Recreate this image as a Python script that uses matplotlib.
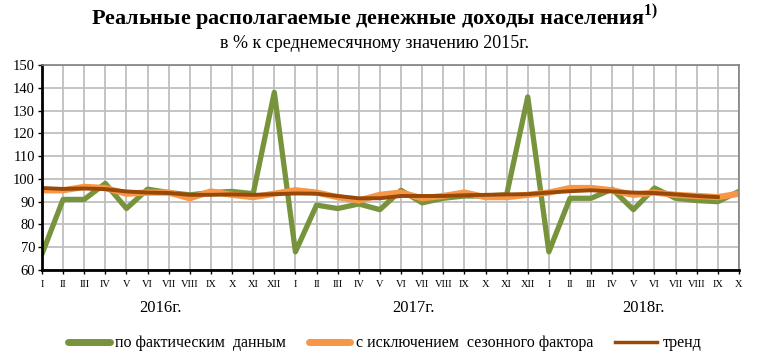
import numpy as np
import matplotlib.pyplot as plt

plt.rcParams['font.family'] = ['Liberation Serif', 'DejaVu Serif']
plt.rcParams['mathtext.fontset'] = 'custom'
plt.rcParams['mathtext.rm'] = 'Liberation Serif'
plt.rcParams['mathtext.bf'] = 'Liberation Serif:bold'

months = ["I", "II", "III", "IV", "V", "VI", "VII", "VIII", "IX", "X", "XI", "XII"]
month_labels = months + months + months[:10]
years = ["2016г.", "2017г.", "2018г."]

fact = [67, 91, 91, 98, 87, 95.5, 94, 93, 94, 94.5, 93.5, 138,
        68, 88.5, 87, 89, 86.5, 95, 89.5, 91.5, 92.5, 92.5, 93, 136,
        68, 91.5, 91.5, 95.5, 86.5, 96, 91.5, 90.5, 90, 94.5]
seasonal = [95, 95, 96.5, 96, 93.5, 94, 94, 91.5, 94.5, 93, 92, 93.5,
            95, 94, 92, 90.5, 93, 94, 91.5, 92.5, 94, 92, 92, 93,
            94, 96, 96, 95, 93, 94, 93, 92.5, 92, 93.5]
trend = [96, 95.6, 95.8, 95.5, 94.5, 94, 93.8, 93, 93, 93.2, 93, 93.3,
         93.6, 93.5, 92.5, 91.5, 91.5, 92.5, 92.5, 92.5, 92.8, 93, 93.2, 93.3,
         94, 94.6, 95, 94.5, 94, 93.8, 93.2, 92.5, 92, np.nan]

x = np.arange(len(month_labels))

fig = plt.figure(figsize=(7.59, 3.62), dpi=100)
ax = fig.add_axes([0.0553, 0.2541, 0.9183, 0.5663])

ax.plot(x, fact, color="#77933C", lw=3.8, label="по фактическим  данным", solid_capstyle="round")
ax.plot(x, seasonal, color="#F79646", lw=4.5, label="с исключением  сезонного фактора", solid_capstyle="round")
ax.plot(x, trend, color="#984807", lw=2.8, label="тренд")

ax.set_xlim(0, len(x) - 1)
ax.set_ylim(60, 150)
ax.set_yticks(range(60, 151, 10))
ax.set_xticks(x)
ax.set_xticklabels(month_labels, fontsize=7.5)
ax.tick_params(axis="y", labelsize=10.5, length=3, width=1, pad=2)
ax.tick_params(axis="x", length=3, width=1, pad=4)
ax.grid(True, color="#BFBFBF", lw=1.3)
ax.set_axisbelow(True)
for s in ["top", "right"]:
    ax.spines[s].set_color("#808080")
    ax.spines[s].set_linewidth(1.2)
for s in ["left", "bottom"]:
    ax.spines[s].set_color("black")
    ax.spines[s].set_linewidth(2)

for yr, pos in zip(years, [5.6, 17.6, 28.5]):
    ax.text(pos, -0.186, yr, transform=ax.get_xaxis_transform(), ha="center", va="center", fontsize=12)

fig.text(0.493, 0.952, r"Реальные располагаемые денежные доходы населения$^{\mathbf{1)}}$",
         ha="center", va="center", fontsize=16, fontweight="bold")
fig.text(0.494, 0.881, "в % к среднемесячному значению 2015г.", ha="center", va="center", fontsize=13)

leg = fig.legend(loc="center", bbox_to_anchor=(0.507, 0.052), ncol=3, frameon=False,
                 fontsize=11.5, handlelength=2.6, columnspacing=1.4, handletextpad=0.35)
for h in leg.get_lines():
    h.set_linewidth(5 if h.get_color() != "#984807" else 2.5)

fig.savefig("out.png", dpi=100)
